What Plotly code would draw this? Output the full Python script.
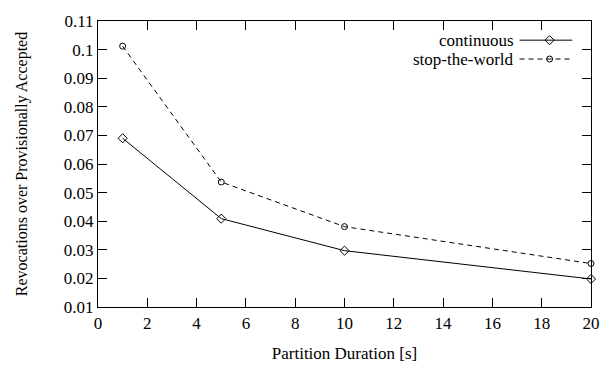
import plotly.graph_objects as go

durations = [1, 5, 10, 20]
continuous = [0.069, 0.0409, 0.0297, 0.0198]
stop_the_world = [0.1012, 0.0537, 0.0381, 0.0252]
y_ticks = [0.01, 0.02, 0.03, 0.04, 0.05, 0.06, 0.07, 0.08, 0.09, 0.10, 0.11]
y_tick_labels = ["0.01", "0.02", "0.03", "0.04", "0.05", "0.06", "0.07", "0.08", "0.09", "0.1", "0.11"]
x_ticks = [0, 2, 4, 6, 8, 10, 12, 14, 16, 18, 20]
series_names = ["continuous", "stop-the-world"]

FONT = "Times New Roman"
FS = 17
DASH = "5px,4px"
fig = go.Figure()
fig.add_trace(go.Scatter(x=durations, y=continuous, name=series_names[0], mode="lines+markers",
                         line=dict(color="black", width=1),
                         marker=dict(symbol="diamond-open", size=7, color="black", line=dict(width=1)),
                         showlegend=False, cliponaxis=False))
fig.add_trace(go.Scatter(x=durations, y=stop_the_world, name=series_names[1], mode="lines+markers",
                         line=dict(color="black", width=1, dash=DASH),
                         marker=dict(symbol="circle-open", size=6, color="black", line=dict(width=1)),
                         showlegend=False, cliponaxis=False))

# custom legend: text right-aligned, sample to the right of it (gnuplot style), drawn on a hidden overlay axis
key_rows = [0.933, 0.867]
key_line = [0.855, 0.962]
key_mark = 0.916
styles = [("solid", "diamond-open", 7), (DASH, "circle-open", 6)]
for name, yp, (dash, sym, sz) in zip(series_names, key_rows, styles):
    fig.add_annotation(xref="paper", yref="paper", x=0.847, y=yp, text=name, showarrow=False,
                       xanchor="right", yanchor="middle", font=dict(family=FONT, size=FS))
    fig.add_trace(go.Scatter(x=key_line, y=[yp, yp], xaxis="x2", yaxis="y2", mode="lines",
                             line=dict(color="black", width=1, dash=dash), showlegend=False, hoverinfo="skip"))
    fig.add_trace(go.Scatter(x=[key_mark], y=[yp], xaxis="x2", yaxis="y2", mode="markers",
                             marker=dict(symbol=sym, size=sz, color="black", line=dict(width=1)),
                             showlegend=False, hoverinfo="skip"))

axis_common = dict(showgrid=False, zeroline=False, showline=True, linecolor="black", linewidth=1.2,
                   mirror="ticks", ticks="inside", ticklen=9, tickcolor="black", tickwidth=1,
                   tickfont=dict(family=FONT, size=FS))
fig.update_layout(
    width=612, height=371, margin=dict(l=98, r=12, t=16, b=57),
    plot_bgcolor="white", paper_bgcolor="white", font=dict(family=FONT, color="black"),
    xaxis=dict(range=[0, 20], tickvals=x_ticks, ticktext=[str(v) for v in x_ticks],
               title=dict(text="Partition Duration [s]", font=dict(family=FONT, size=FS), standoff=15),
               **axis_common),
    yaxis=dict(range=[0.01, 0.11], tickvals=y_ticks, ticktext=y_tick_labels,
               title=dict(text="Revocations over Provisionally Accepted", font=dict(family=FONT, size=FS - 1), standoff=32),
               **axis_common),
    xaxis2=dict(range=[0, 1], overlaying="x", visible=False, showgrid=False, zeroline=False),
    yaxis2=dict(range=[0, 1], overlaying="y", visible=False, showgrid=False, zeroline=False),
)
fig.write_html("out.html")
